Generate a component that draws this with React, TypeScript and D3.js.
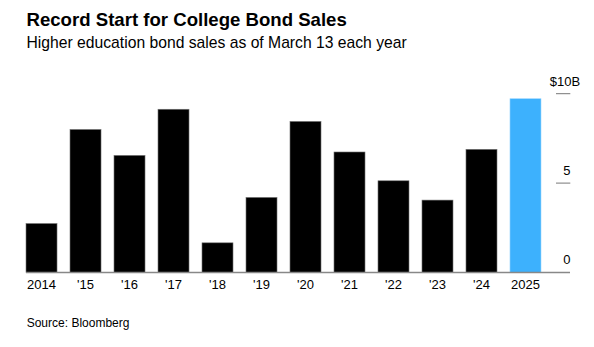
import React from "react";
import * as d3 from "d3";

const categories = ["2014", "'15", "'16", "'17", "'18", "'19", "'20", "'21", "'22", "'23", "'24", "2025"];
const values = [2.74, 8.0, 6.55, 9.13, 1.66, 4.2, 8.45, 6.74, 5.13, 4.05, 6.89, 9.72];
const yTicks = [0, 5, 10];

const W = 594;
const H = 347;
const FONT = "'Liberation Sans', Arial, Helvetica, sans-serif";

export default function App() {
  const x = d3.scaleBand<string>().domain(categories).range([26, 541]).paddingInner(0.295).paddingOuter(0);
  const y = d3.scaleLinear().domain([0, 10]).range([272.5, 93.7]);

  return (
    <svg width={W} height={H} style={{ position: "absolute", left: 0, top: 0, background: "#fff" }} fontFamily={FONT}>
      <text x={26.5} y={26} fontSize={18.6} fontWeight="bold" fill="#000">Record Start for College Bond Sales</text>
      <text x={26.5} y={47.5} fontSize={15.7} fill="#000">Higher education bond sales as of March 13 each year</text>

      {categories.map((c, i) => {
        const isLast = i === categories.length - 1;
        return (
          <rect
            key={c}
            x={x(c)!}
            y={y(values[i])}
            width={x.bandwidth()}
            height={y(0) - y(values[i])}
            fill={isLast ? "#3db1fd" : "#000"}
            stroke={isLast ? "#9bd5ff" : "#777"}
            strokeWidth={0.6}
          />
        );
      })}

      <line x1={26} x2={570} y1={y(0)} y2={y(0)} stroke="#888" strokeWidth={1.5} />

      {yTicks.map((t) => (
        <g key={t}>
          {t !== 0 && <line x1={556} x2={570.3} y1={y(t)} y2={y(t)} stroke="#777" strokeWidth={1} />}
          {t === 10 ? (
            <>
              <text x={571.5} y={y(t) - 8} fontSize={13} textAnchor="end" fill="#000">$10</text>
              <text x={571.5} y={y(t) - 8} fontSize={13} textAnchor="start" fill="#000">B</text>
            </>
          ) : (
            <text x={570.5} y={y(t) - 8.5} fontSize={13} textAnchor="end" fill="#000">{t}</text>
          )}
        </g>
      ))}

      {categories.map((c) => (
        <text key={c} x={x(c)! + x.bandwidth() / 2} y={289.3} fontSize={13} textAnchor="middle" fill="#000">{c}</text>
      ))}

      <text x={26.7} y={326.7} fontSize={12} fill="#000">Source: Bloomberg</text>
    </svg>
  );
}
